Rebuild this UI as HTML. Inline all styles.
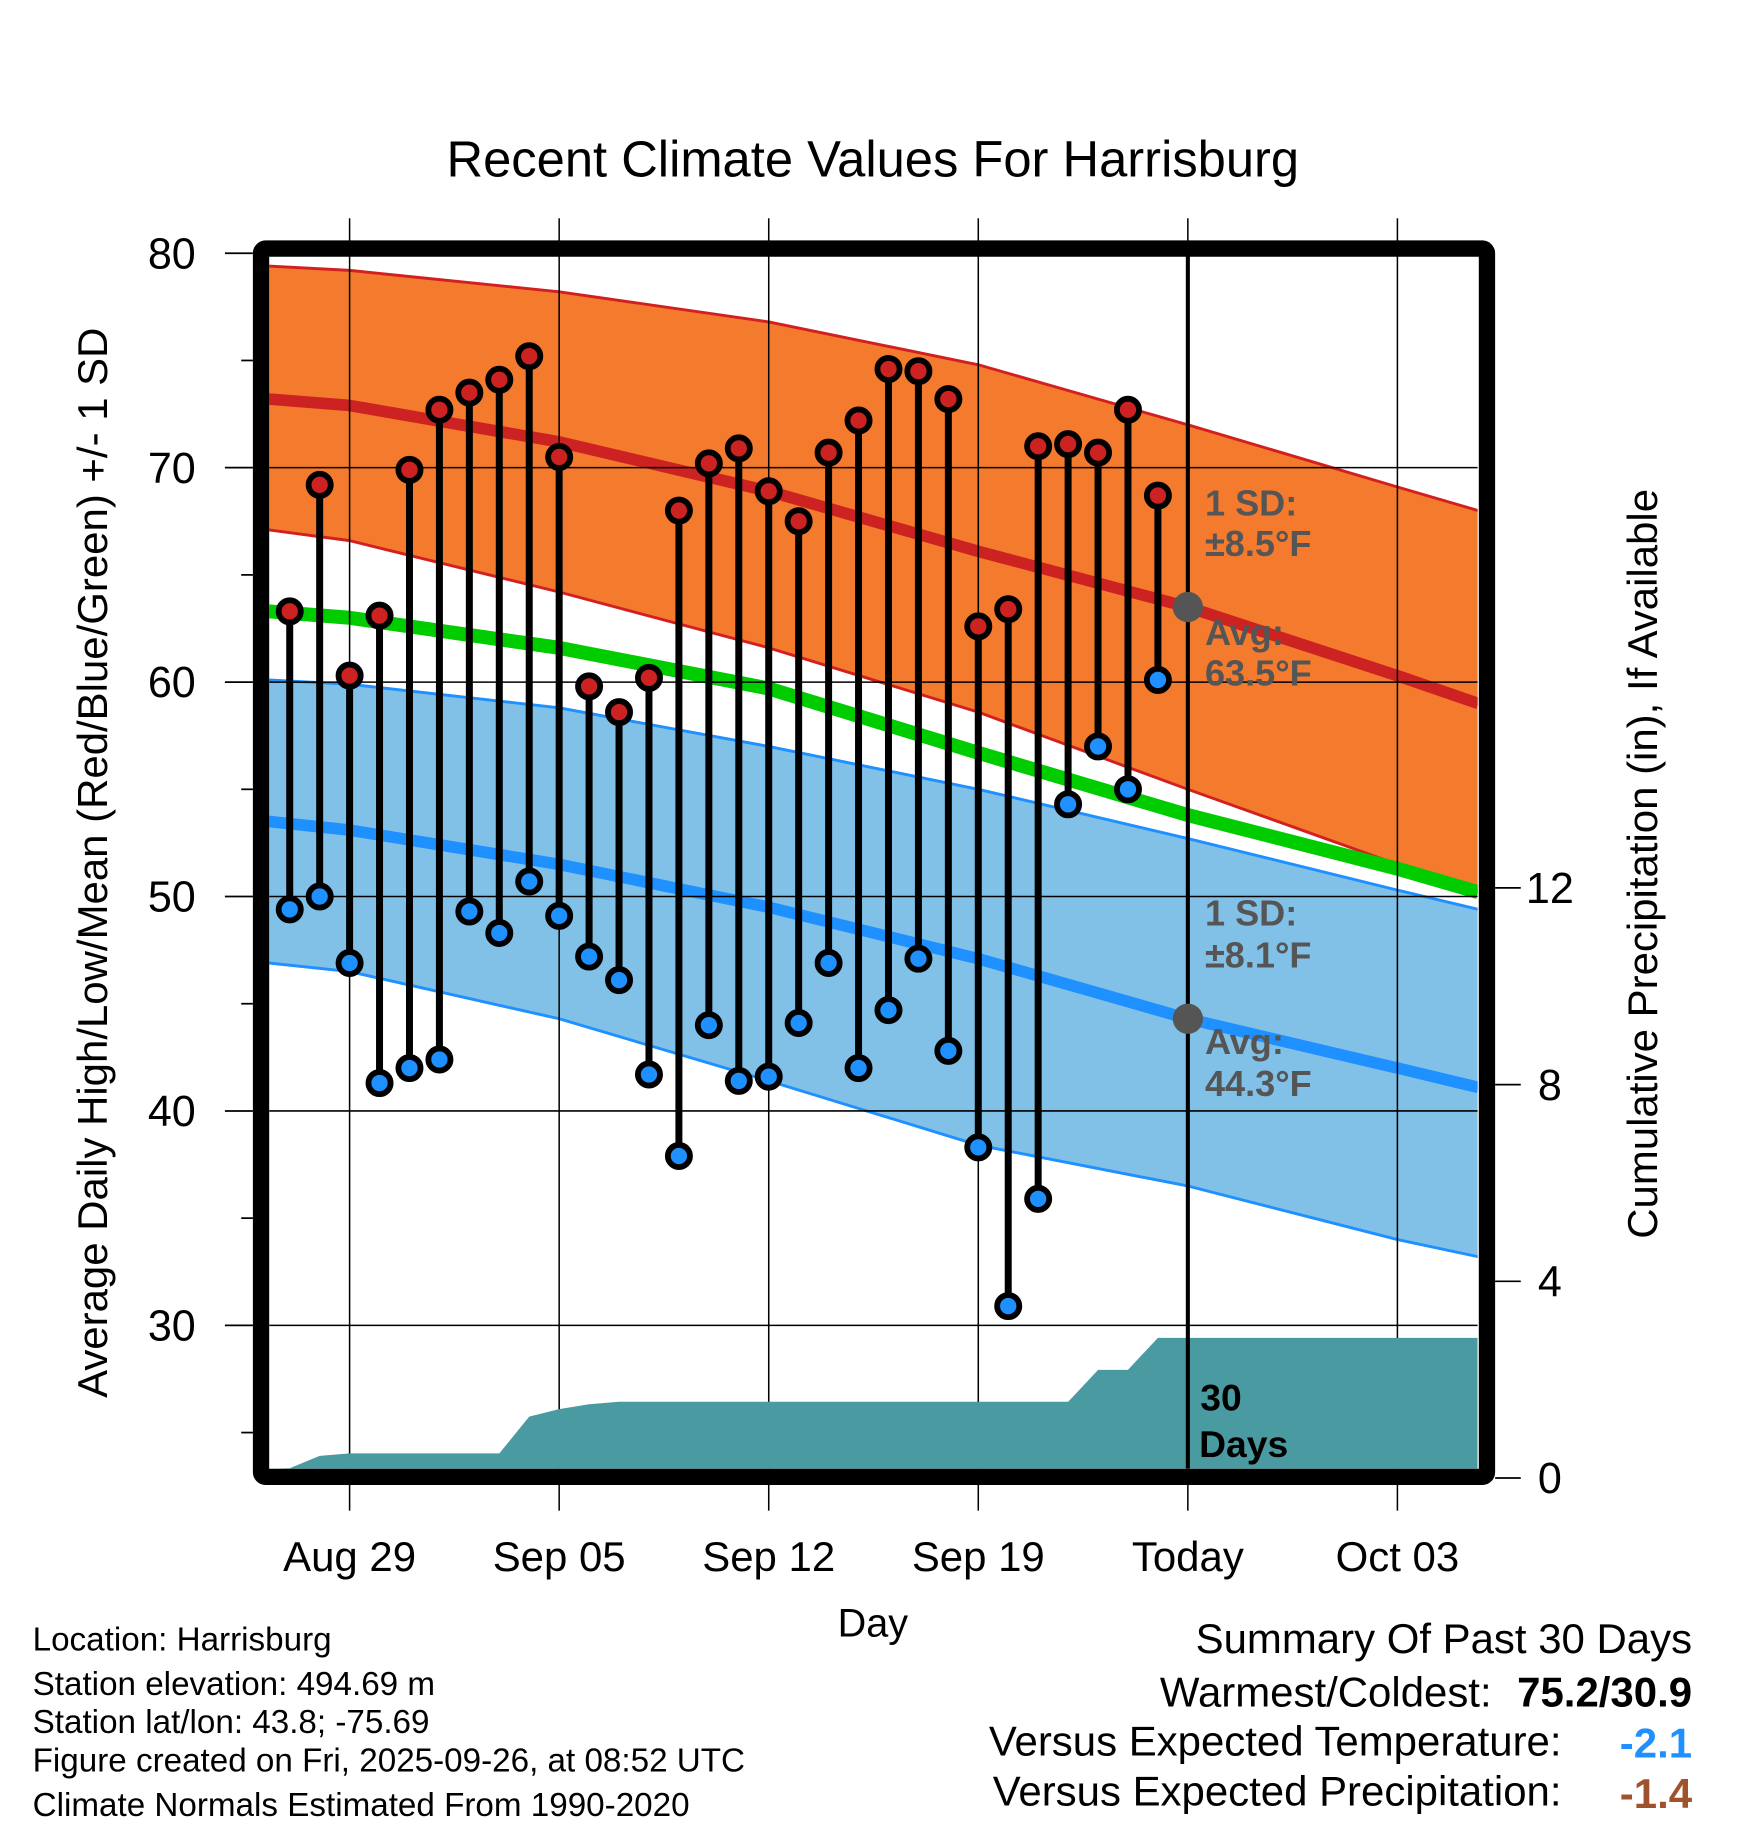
<!DOCTYPE html>
<html><head><meta charset="utf-8"><style>
html,body{margin:0;padding:0;background:#fff;}
svg{display:block;font-family:"Liberation Sans",Arial,sans-serif;}
</style></head><body>
<svg id="chart" width="1748" height="1828" viewBox="0 0 1500 1568" xmlns="http://www.w3.org/2000/svg">
<text x="749" y="151" font-size="43.5" text-anchor="middle">Recent Climate Values For Harrisburg</text>
<g id="plot"></g>
<text x="749" y="1404" font-size="34" text-anchor="middle">Day</text>
<text transform="translate(92,740) rotate(-90)" font-size="36" text-anchor="middle">Average Daily High/Low/Mean (Red/Blue/Green) +/- 1 SD</text>
<text transform="translate(1422,741) rotate(-90)" font-size="36" text-anchor="middle">Cumulative Precipitation (in), If Available</text>
<g font-size="28.5">
<text x="28" y="1416">Location: Harrisburg</text>
<text x="28" y="1454">Station elevation: 494.69 m</text>
<text x="28" y="1487">Station lat/lon: 43.8; -75.69</text>
<text x="28" y="1520">Figure created on Fri, 2025-09-26, at 08:52 UTC</text>
<text x="28" y="1558">Climate Normals Estimated From 1990-2020</text>
</g>
<g font-size="36" text-anchor="end">
<text x="1452" y="1418">Summary Of Past 30 Days</text>
<text x="1280" y="1464">Warmest/Coldest:</text>
<text x="1452" y="1464" font-weight="bold">75.2/30.9</text>
<text x="1340" y="1506">Versus Expected Temperature:</text>
<text x="1452" y="1508" font-weight="bold" fill="#1e90ff">-2.1</text>
<text x="1340" y="1549">Versus Expected Precipitation:</text>
<text x="1452" y="1551" font-weight="bold" fill="#a0522d">-1.4</text>
</g>
</svg>
<script>
const highs=[63.3,69.2,60.3,63.1,69.9,72.7,73.5,74.1,75.2,70.5,59.8,58.6,60.2,68.0,70.2,70.9,68.9,67.5,70.7,72.2,74.6,74.5,73.2,62.6,63.4,71.0,71.1,70.7,72.7,68.7];
const lows=[49.4,50.0,46.9,41.3,42.0,42.4,49.3,48.3,50.7,49.1,47.2,46.1,41.7,37.9,44.0,41.4,41.6,44.1,46.9,42.0,44.7,47.1,42.8,38.3,30.9,35.9,54.3,57.0,55.0,60.1];
const precip=[0.2,0.45,0.5,0.5,0.5,0.5,0.5,0.5,1.25,1.4,1.5,1.55,1.55,1.55,1.55,1.55,1.55,1.55,1.55,1.55,1.55,1.55,1.55,1.55,1.55,1.55,1.55,2.2,2.2,2.85];
const normDays=[-2.7,0,7,14,21,28,35,37.7];
const highAvg=[73.2,72.9,71.2,68.9,66.1,63.5,60.3,59.0];
const highUp=[79.4,79.2,78.2,76.8,74.8,72.0,69.1,68.0];
const highLo=[67.1,66.6,64.2,61.6,58.6,55.0,51.5,50.2];
const meanAvg=[63.3,63.0,61.6,59.7,56.7,53.8,51.3,50.2];
const lowAvg=[53.5,53.1,51.5,49.5,47.1,44.3,42.0,41.1];
const lowUp=[60.1,59.9,58.8,57.0,55.0,52.7,50.3,49.4];
const lowLo=[46.9,46.5,44.3,41.4,38.4,36.5,34.0,33.2];
const yTicks=[30,40,50,60,70,80];
const y2Ticks=[0,4,8,12];
const xTickDays=[0,7,14,21,28,35];
const xTickLabels=["Aug 29","Sep 05","Sep 12","Sep 19","Today","Oct 03"];
const firstDay=-2;

const L=231,R=1268,T=219,B=1260;
const X=d=>300+d*25.69;
const Y=v=>217+(80-v)*18.4;
const Y2=p=>1268-p*42.2;
const NS="http://www.w3.org/2000/svg";
const g=document.getElementById('plot');
function el(tag,attrs,parent){const e=document.createElementNS(NS,tag);for(const k in attrs)e.setAttribute(k,attrs[k]);(parent||g).appendChild(e);return e;}
function pts(ds,vs){return ds.map((d,i)=>X(d).toFixed(1)+','+Y(vs[i]).toFixed(1));}
let e;
el('clipPath',{id:'clip'}); el('rect',{x:L,y:T,width:R-L,height:B-T},g.lastChild);
const pg=el('g',{'clip-path':'url(#clip)'});
e=el('polygon',{points:pts(normDays,highUp).concat(pts(normDays,highLo).reverse()).join(' '),fill:'#f47a2e'},pg);


e=el('polygon',{points:pts(normDays,lowUp).concat(pts(normDays,lowLo).reverse()).join(' '),fill:'#82c1e7'},pg);


[[highUp,'#d22020',2.5,'high-sd-upper'],[highLo,'#d22020',2.5,'high-sd-lower'],[lowUp,'#1e90ff',2.5,'low-sd-upper'],[lowLo,'#1e90ff',2.5,'low-sd-lower'],[highAvg,'#cc2222',10,'high-avg-line'],[lowAvg,'#1e90ff',10,'low-avg-line'],[meanAvg,'#00cc00',12,'mean-avg-line']].forEach(a=>{
 e=el('polyline',{points:pts(normDays,a[0]).join(' '),fill:'none',stroke:a[1],'stroke-width':a[2],'stroke-linejoin':'round'},pg);
 
 
});
yTicks.forEach(v=>{if(v<80){e=el('line',{x1:L,x2:R,y1:Y(v),y2:Y(v),stroke:'#000','stroke-width':1.3},pg);}});
xTickDays.forEach(d=>{e=el('line',{x1:X(d),x2:X(d),y1:T,y2:B,stroke:'#000','stroke-width':1.3},pg);});
let pp=[L+','+B];
precip.forEach((p,i)=>pp.push(X(firstDay+i).toFixed(1)+','+Y2(p).toFixed(1)));
pp.push(R+','+Y2(precip[precip.length-1]).toFixed(1));pp.push(R+','+B);
e=el('polygon',{points:pp.join(' '),fill:'#4a9aa2'},pg);


e=el('line',{x1:X(28),x2:X(28),y1:T,y2:B,stroke:'#000','stroke-width':3.5},pg);


highs.forEach((h,i)=>{
 const x=X(firstDay+i);
 e=el('line',{x1:x,x2:x,y1:Y(h),y2:Y(lows[i]),stroke:'#000','stroke-width':6},pg);
 
 
});
highs.forEach((h,i)=>{
 const x=X(firstDay+i);
 e=el('circle',{cx:x,cy:Y(h),r:9.5,fill:'#cc2222',stroke:'#000','stroke-width':5},pg);
 
 
 e=el('circle',{cx:x,cy:Y(lows[i]),r:9.5,fill:'#1e90ff',stroke:'#000','stroke-width':5},pg);
 
 
});
e=el('circle',{cx:X(28),cy:Y(highAvg[5]),r:13,fill:'#555'},pg);


e=el('circle',{cx:X(28),cy:Y(lowAvg[5]),r:13,fill:'#555'},pg);


const ann=[['1 SD:',442],['±8.5°F',477],['Avg:',553],['63.5°F',588],['1 SD:',794],['±8.1°F',830],['Avg:',904],['44.3°F',940]];
ann.forEach(a=>{e=el('text',{x:1034,y:a[1],'font-size':31,'font-weight':'bold',fill:'#555'});e.textContent=a[0];});
e=el('text',{x:1030,y:1210,'font-size':32,'font-weight':'bold'});e.textContent='30';


e=el('text',{x:1029,y:1250,'font-size':32,'font-weight':'bold'});e.textContent='Days';


e=el('rect',{x:224,y:213,width:1052,height:1054,fill:'none',stroke:'#000','stroke-width':14,rx:4});


for(let v=25;v<=80;v+=5){const major=v%10===0;e=el('line',{x1:major?193:207,x2:217,y1:Y(v),y2:Y(v),stroke:'#000','stroke-width':1.5});}
yTicks.forEach(v=>{e=el('text',{x:168,y:Y(v)+13,'font-size':37,'text-anchor':'end'});e.textContent=v;});
y2Ticks.forEach(p=>{
 e=el('line',{x1:1283,x2:1305,y1:Y2(p),y2:Y2(p),stroke:'#000','stroke-width':1.5});
 e=el('text',{x:1330,y:Y2(p)+13,'font-size':37,'text-anchor':'middle'});e.textContent=p;
});
xTickDays.forEach((d,i)=>{
 e=el('line',{x1:X(d),x2:X(d),y1:187,y2:207,stroke:'#000','stroke-width':1.3});
 e=el('line',{x1:X(d),x2:X(d),y1:1274,y2:1296,stroke:'#000','stroke-width':1.3});
 e=el('text',{x:X(d),y:1348,'font-size':36,'text-anchor':'middle'});e.textContent=xTickLabels[i];
});
</script>
</body></html>
